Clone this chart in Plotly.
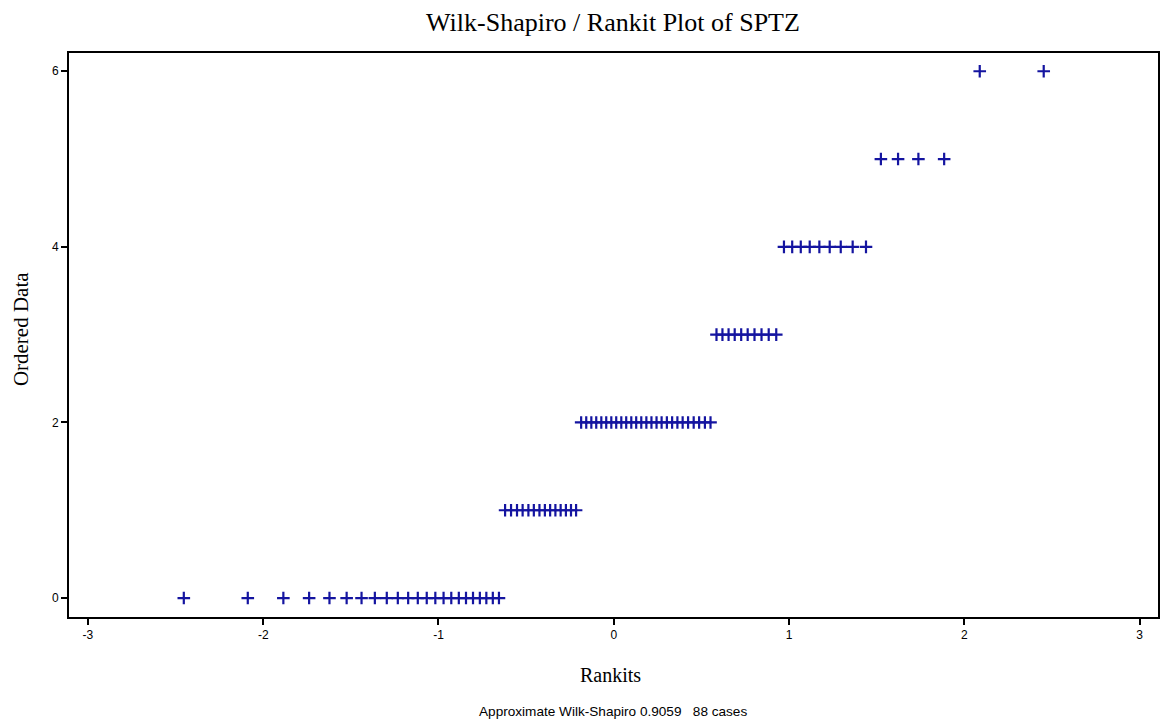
import plotly.graph_objects as go

# Ordered data values (SPTZ) and the rankit (normal score) of every case at that value
level_values = [0, 1, 2, 3, 4, 5, 6]

rankits_0 = [-2.453, -2.088, -1.885, -1.738, -1.622, -1.524, -1.439, -1.363,
             -1.295, -1.232, -1.173, -1.118, -1.067, -1.018, -0.971, -0.927,
             -0.884, -0.843, -0.803, -0.764, -0.727, -0.690, -0.655]
rankits_1 = [-0.620, -0.586, -0.552, -0.520, -0.487, -0.456, -0.424, -0.393,
             -0.363, -0.333, -0.303, -0.273, -0.244, -0.215]
rankits_2 = [-0.186, -0.157, -0.128, -0.100, -0.071, -0.043, -0.014, 0.014,
             0.043, 0.071, 0.100, 0.128, 0.157, 0.186, 0.215, 0.244, 0.273,
             0.303, 0.333, 0.363, 0.393, 0.424, 0.456, 0.487, 0.520, 0.552]
rankits_3 = [0.586, 0.620, 0.655, 0.690, 0.727, 0.764, 0.803, 0.843, 0.884, 0.927]
rankits_4 = [0.971, 1.018, 1.067, 1.118, 1.173, 1.232, 1.295, 1.363, 1.439]
rankits_5 = [1.524, 1.622, 1.738, 1.885]
rankits_6 = [2.088, 2.453]

rankit_groups = [rankits_0, rankits_1, rankits_2, rankits_3,
                 rankits_4, rankits_5, rankits_6]

x_ticks = [-3, -2, -1, 0, 1, 2, 3]
y_ticks = [0, 2, 4, 6]

wilk_shapiro = 0.9059

x_vals, y_vals = [], []
for value, group in zip(level_values, rankit_groups):
    x_vals.extend(group)
    y_vals.extend([value] * len(group))
n_cases = len(x_vals)

fig = go.Figure()
fig.add_trace(go.Scatter(
    x=x_vals, y=y_vals, mode="markers",
    marker=dict(symbol="cross-thin", size=9, color="#1414a0",
                line=dict(color="#1414a0", width=2.2)),
    showlegend=False, hoverinfo="x+y",
))

serif = "Liberation Serif, Times New Roman, serif"
sans = "Liberation Sans, Arial, sans-serif"

axis_common = dict(
    showline=True, linecolor="black", linewidth=2, mirror=True,
    ticks="outside", ticklen=6, tickwidth=2, tickcolor="black",
    showgrid=False, zeroline=False,
    tickfont=dict(family=sans, size=12, color="black"),
)

fig.update_xaxes(range=[-3.108, 3.105], tickvals=x_ticks,
                 ticktext=[str(t) for t in x_ticks], **axis_common)
fig.update_yaxes(range=[-0.216, 6.208], tickvals=y_ticks,
                 ticktext=[str(t) for t in y_ticks], **axis_common)

fig.update_layout(
    width=1170, height=725,
    margin=dict(l=69, r=10, t=53, b=108),
    paper_bgcolor="white", plot_bgcolor="white",
    title=dict(text="Wilk-Shapiro / Rankit Plot of SPTZ",
               x=613 / 1170, xanchor="center",
               y=1 - 22 / 725, yanchor="middle",
               font=dict(family=serif, size=26, color="black")),
    annotations=[
        dict(text="Rankits", xref="paper", yref="paper",
             x=0.4977, y=-0.1028, xanchor="center", yanchor="middle",
             showarrow=False, font=dict(family=serif, size=20, color="black")),
        dict(text="Ordered Data", xref="paper", yref="paper",
             x=-0.044, y=0.5106, xanchor="center", yanchor="middle",
             textangle=-90, showarrow=False,
             font=dict(family=serif, size=21, color="black")),
        dict(text=f"Approximate Wilk-Shapiro {wilk_shapiro:.4f}&nbsp;&nbsp;&nbsp;{n_cases} cases",
             xref="paper", yref="paper",
             x=0.4995, y=-0.168, xanchor="center", yanchor="middle",
             showarrow=False, font=dict(family=sans, size=13.6, color="black")),
    ],
)

fig.write_html("out.html")
